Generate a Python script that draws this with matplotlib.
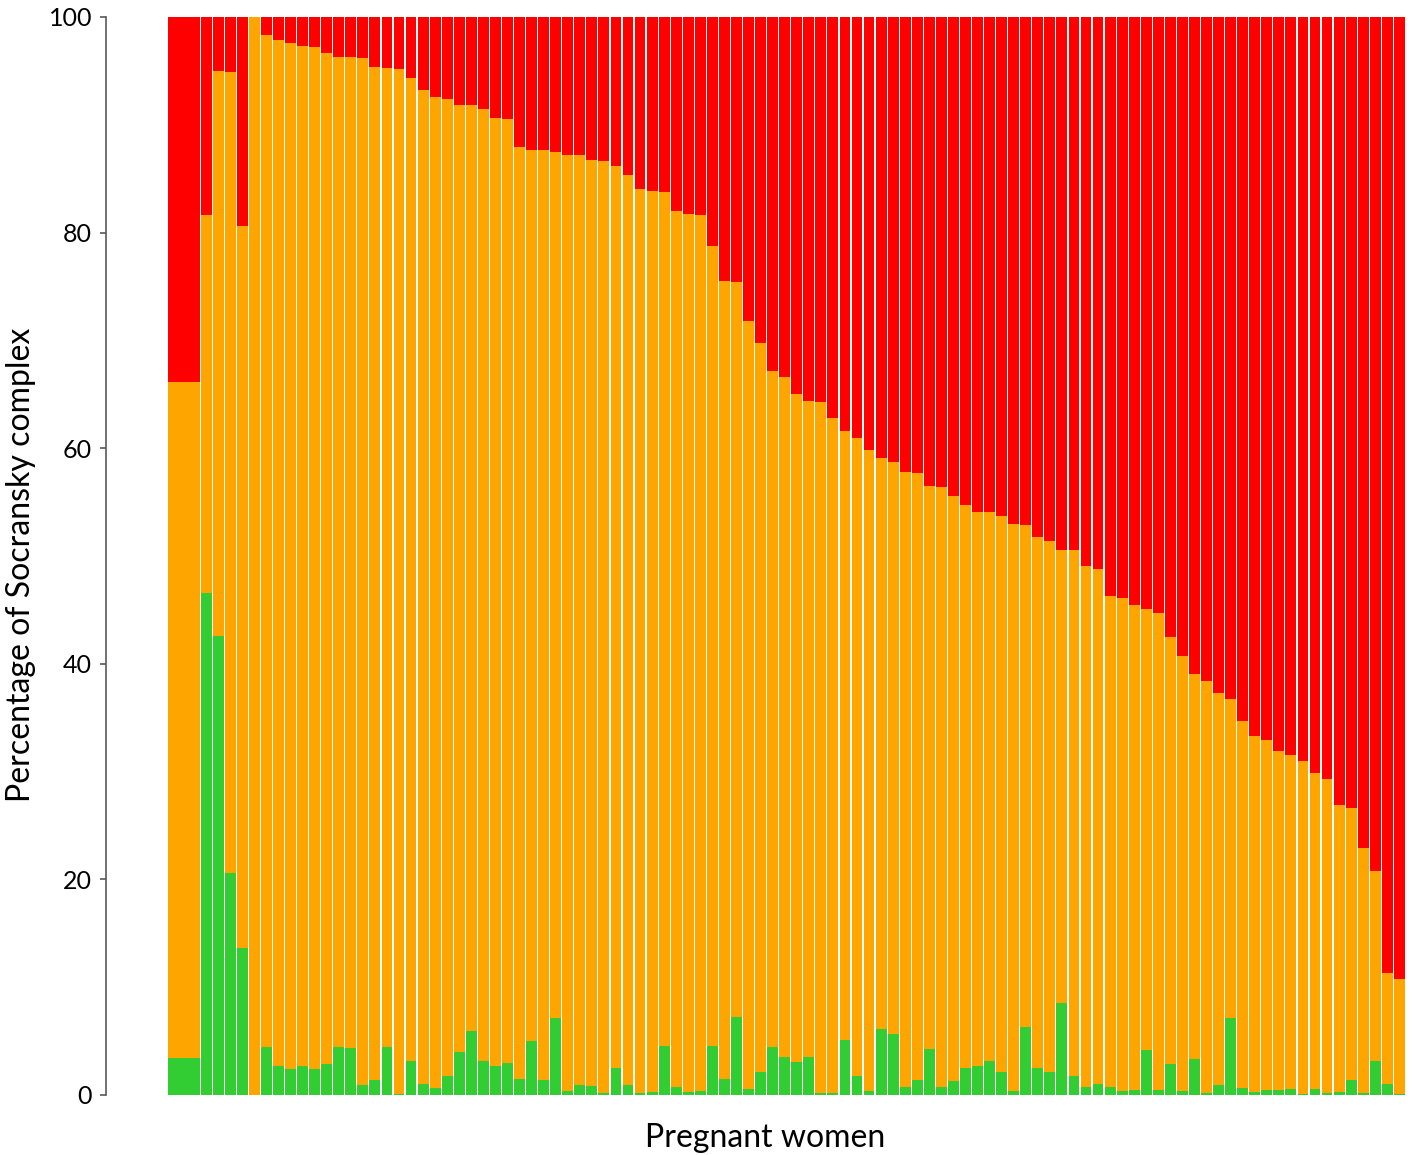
import matplotlib
matplotlib.use("Agg")
import matplotlib.pyplot as plt
import numpy as np

plt.rcParams['font.family'] = ['Lato', 'DejaVu Sans']

# Percentage of green complex per woman
green = [3.4, 46.6, 42.6, 20.6, 13.6, 0.0, 4.45, 2.7, 2.4, 2.7,
         2.4, 2.9, 4.45, 4.36, 0.9, 1.4, 4.45, 0.1, 3.2, 1.05,
         0.65, 1.8, 4.0, 5.9, 3.15, 2.66, 3.0, 1.5, 5.0, 1.4,
         7.1, 0.4, 0.93, 0.87, 0.15, 2.5, 0.93, 0.2, 0.3, 4.55,
         0.77, 0.3, 0.4, 4.55, 1.5, 7.2, 0.53, 2.1, 4.45, 3.5,
         3.06, 3.5, 0.2, 0.2, 5.1, 1.76, 0.4, 6.1, 5.7, 0.77,
         1.4, 4.27, 0.77, 1.3, 2.47, 2.66, 3.15, 2.1, 0.4, 6.3,
         2.5, 2.16, 8.5, 1.8, 0.77, 1.0, 0.71, 0.4, 0.46, 4.2,
         0.5, 2.9, 0.4, 3.3, 0.2, 0.93, 7.14, 0.65, 0.3, 0.46,
         0.46, 0.53, 0.1, 0.53, 0.2, 0.25, 1.4, 0.2, 3.15, 1.0,
         0.1]

# Cumulative percentage of green + orange complexes per woman
green_orange = [66.1, 81.6, 95.0, 94.9, 80.6, 100.0, 98.3, 97.9, 97.6, 97.3,
                97.2, 96.7, 96.3, 96.3, 96.2, 95.4, 95.3, 95.2, 94.3, 93.2,
                92.6, 92.4, 91.8, 91.8, 91.5, 90.6, 90.5, 87.9, 87.7, 87.7,
                87.5, 87.2, 87.2, 86.7, 86.6, 86.2, 85.3, 84.0, 83.9, 83.8,
                82.0, 81.7, 81.6, 78.8, 75.5, 75.4, 71.8, 69.8, 67.2, 66.6,
                65.0, 64.4, 64.3, 62.8, 61.6, 60.9, 59.8, 59.1, 58.7, 57.8,
                57.7, 56.5, 56.4, 55.6, 54.7, 54.1, 54.1, 53.7, 53.0, 52.9,
                51.8, 51.4, 50.6, 50.6, 49.1, 48.8, 46.3, 46.1, 45.5, 45.1,
                44.7, 42.5, 40.7, 39.1, 38.4, 37.3, 36.7, 34.7, 33.3, 32.9,
                31.9, 31.5, 31.0, 29.9, 29.3, 26.9, 26.6, 22.9, 20.8, 11.3,
                10.8]

y_ticks = [0, 20, 40, 60, 80, 100]

green_a = np.array(green)
top_a = np.array(green_orange)
orange_a = top_a - green_a
red_a = 100.0 - top_a

n = len(green)
widths = np.ones(n)
widths[0] = 2.71
lefts = np.concatenate([[0.0], widths[0] + np.arange(n - 1)])
gap = 0.1

fig = plt.figure(figsize=(14.18, 11.55), dpi=100)
ax = fig.add_axes([106 / 1418, 1 - 1095 / 1155, (1406 - 106) / 1418, (1095 - 17) / 1155])

kw = dict(width=widths - gap, align='edge', linewidth=0)
ax.bar(lefts, green_a, color='#32CD32', **kw)
ax.bar(lefts, orange_a, bottom=green_a, color='#FFA500', **kw)
ax.bar(lefts, red_a, bottom=top_a, color='#FF0000', **kw)

ax.set_xlim(-5.15, lefts[-1] + widths[-1])
ax.set_ylim(0, 100)
ax.set_yticks(y_ticks)
ax.set_yticklabels([str(t) for t in y_ticks], fontsize=18)
ax.set_xticks([])
for s in ['top', 'right', 'bottom']:
    ax.spines[s].set_visible(False)
ax.spines['left'].set_color('#595959')
ax.spines['left'].set_linewidth(1.2)
ax.tick_params(axis='y', direction='out', length=4, width=1.2, color='#595959', pad=6)

ax.set_ylabel('Percentage of Socransky complex', fontsize=23)
ax.yaxis.set_label_coords(-0.054, 0.492)
ax.set_xlabel('Pregnant women', fontsize=23, labelpad=20)
ax.xaxis.label.set_x(0.507)

fig.savefig('out.png', dpi=100)
